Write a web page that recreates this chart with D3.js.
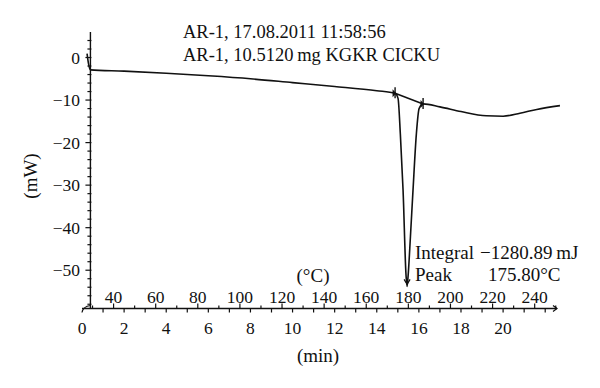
<!DOCTYPE html>
<html>
<head>
<meta charset="utf-8">
<script src="https://cdn.jsdelivr.net/npm/d3@7"></script>
<style>
  body { margin: 0; background: #fff; }
  svg text { font-family: "Liberation Serif", "DejaVu Serif", serif; fill: #111; }
</style>
</head>
<body>
<svg id="chart" width="600" height="388"></svg>
<script>
// DSC curve, time in min, heat flow in mW
const time = [0.24, 0.30, 0.40, 2, 4, 6, 8, 10, 12, 14, 14.87, 15.01, 15.12, 15.25, 15.39, 15.44, 15.49, 15.60, 15.72, 15.88, 16.01, 16.2, 17, 18, 19.2, 20.0, 20.8, 21.6, 22.7]
const heatFlow = [0.9, -1.2, -2.9, -3.2, -3.7, -4.3, -5.0, -5.9, -6.8, -7.8, -8.4, -9.6, -18, -31.3, -51.2, -53.8, -51.2, -42, -31.3, -18, -12.0, -10.9, -11.6, -12.7, -13.7, -13.8, -13.1, -12.2, -11.3]
// integration baseline of the peak
const baseTime = [14.87, 16.2]
const baseFlow = [-8.4, -10.9]
const peakTime = 15.44
const peakFlow = -53.8

const yTicks = [0, -10, -20, -30, -40, -50]
const minTicks = [0, 2, 4, 6, 8, 10, 12, 14, 16, 18, 20]
const tempTicks = [40, 60, 80, 100, 120, 140, 160, 180, 200, 220, 240]
const startTemp = 25 // °C at t = 0, 10 K/min
const rate = 10

const titleLines = ["AR-1, 17.08.2011 11:58:56", "AR-1, 10.5120\u2009mg KGKR CICKU"]

const svg = d3.select("#chart")

const x = d3.scaleLinear().domain([0, 22.56]).range([82, 557])
const xT = d3.scaleLinear()
    .domain([startTemp, startTemp + rate * 22.56])
    .range([82, 557])
const y = d3.scaleLinear().domain([-59, 6]).range([308.5, 32])
const axisX = x(0.4)
const tickSize = 17.5
const textSize = 19

// y axis
const gy = svg.append("g").attr("stroke", "#111")
gy.append("line")
    .attr("x1", axisX).attr("x2", axisX)
    .attr("y1", y(6)).attr("y2", y(-59))
    .attr("stroke-width", 1.4)
gy.selectAll("line.minor")
    .data(d3.range(-58, 6, 2))
    .join("line")
    .attr("class", "minor")
    .attr("x1", d => axisX - (d % 10 === 0 ? 5 : 3))
    .attr("x2", axisX + 1)
    .attr("y1", d => y(d)).attr("y2", d => y(d))
    .attr("stroke-width", 1.2)
svg.append("g").selectAll("text")
    .data(yTicks)
    .join("text")
    .attr("x", 80)
    .attr("y", d => y(d))
    .attr("dy", "0.35em")
    .attr("text-anchor", "end")
    .attr("font-size", tickSize)
    .text(d => d < 0 ? "\u2212" + Math.abs(d) : d)
svg.append("text")
    .attr("transform", `translate(37,176) rotate(-90)`)
    .attr("text-anchor", "middle")
    .attr("font-size", textSize)
    .text("(mW)")

// x axis (time below, temperature above)
const gx = svg.append("g").attr("stroke", "#111").attr("fill", "none")
const ax = y(-59)
gx.append("line")
    .attr("x1", x(0)).attr("x2", x(22.56))
    .attr("y1", ax).attr("y2", ax)
    .attr("stroke-width", 1.4)
gx.append("path")
    .attr("d", `M${x(0)},${ax + 4} Q${x(0) + 1},${ax - 2} ${axisX},${ax - 3}`)
    .attr("stroke-width", 1.2)
gx.append("path")
    .attr("d", `M${x(22.56) - 4},${ax - 3} L${x(22.56)},${ax} L${x(22.56) - 4},${ax + 3}`)
    .attr("stroke-width", 1.2)
gx.selectAll("line.min")
    .data(d3.range(1, 23))
    .join("line")
    .attr("class", "min")
    .attr("x1", d => x(d)).attr("x2", d => x(d))
    .attr("y1", ax).attr("y2", ax + 4)
    .attr("stroke-width", 1.2)
gx.selectAll("line.temp")
    .data(d3.range(30, 260, 10))
    .join("line")
    .attr("class", "temp")
    .attr("x1", d => xT(d)).attr("x2", d => xT(d))
    .attr("y1", ax).attr("y2", d => ax - (d % 20 === 0 ? 5 : 3))
    .attr("stroke-width", 1.2)

svg.append("g").selectAll("text")
    .data(minTicks)
    .join("text")
    .attr("x", d => x(d))
    .attr("y", 334)
    .attr("text-anchor", "middle")
    .attr("font-size", tickSize)
    .text(d => d)
svg.append("g").selectAll("text")
    .data(tempTicks)
    .join("text")
    .attr("x", d => xT(d))
    .attr("y", 303)
    .attr("text-anchor", "middle")
    .attr("font-size", tickSize)
    .text(d => d)
svg.append("text")
    .attr("x", 318).attr("y", 362)
    .attr("text-anchor", "middle")
    .attr("font-size", textSize)
    .text("(min)")
svg.append("text")
    .attr("x", 313).attr("y", 282)
    .attr("text-anchor", "middle")
    .attr("font-size", textSize)
    .text("(\u00B0C)")

// curve
const line = d3.line()
    .x(d => x(d[0]))
    .y(d => y(d[1]))
    .curve(d3.curveMonotoneX)
svg.append("path")
    .datum(d3.zip(time, heatFlow))
    .attr("fill", "none")
    .attr("stroke", "#111")
    .attr("stroke-width", 1.6)
    .attr("d", line)
svg.append("path")
    .datum(d3.zip(baseTime, baseFlow))
    .attr("fill", "none")
    .attr("stroke", "#111")
    .attr("stroke-width", 1.6)
    .attr("d", d3.line().x(d => x(d[0])).y(d => y(d[1])))

// limit markers
const marks = svg.append("g").attr("fill", "#111").attr("stroke", "#111")
d3.zip(baseTime, baseFlow).forEach(([t, v]) => {
    const px = x(t), py = y(v)
    marks.append("line")
        .attr("x1", px).attr("x2", px)
        .attr("y1", py - 6).attr("y2", py + 5)
        .attr("stroke-width", 1.4)
    marks.append("path")
        .attr("d", `M${px - 2.5},${py - 4} L${px + 1},${py} L${px - 2.5},${py + 4}Z`)
        .attr("stroke", "none")
})
// peak pointer
const pk = [x(peakTime), y(peakFlow) - 2]
marks.append("path")
    .attr("d", `M${pk[0] - 3},${pk[1] - 5} L${pk[0]},${pk[1]} L${pk[0] + 3},${pk[1] - 5}`)
    .attr("fill", "none")
    .attr("stroke-width", 1.2)

// annotations
svg.append("g").selectAll("text")
    .data(titleLines)
    .join("text")
    .attr("x", 183)
    .attr("y", (d, i) => 38 + i * 23)
    .attr("font-size", 18.5)
    .text(d => d)
const ann = svg.append("g").attr("font-size", textSize)
ann.append("text").attr("x", 415).attr("y", 259).text("Integral")
ann.append("text").attr("x", 480).attr("y", 259).text("\u22121280.89\u2009mJ")
ann.append("text").attr("x", 415).attr("y", 281).text("Peak")
ann.append("text").attr("x", 488).attr("y", 281).text("175.80\u00B0C")
</script>
</body>
</html>
